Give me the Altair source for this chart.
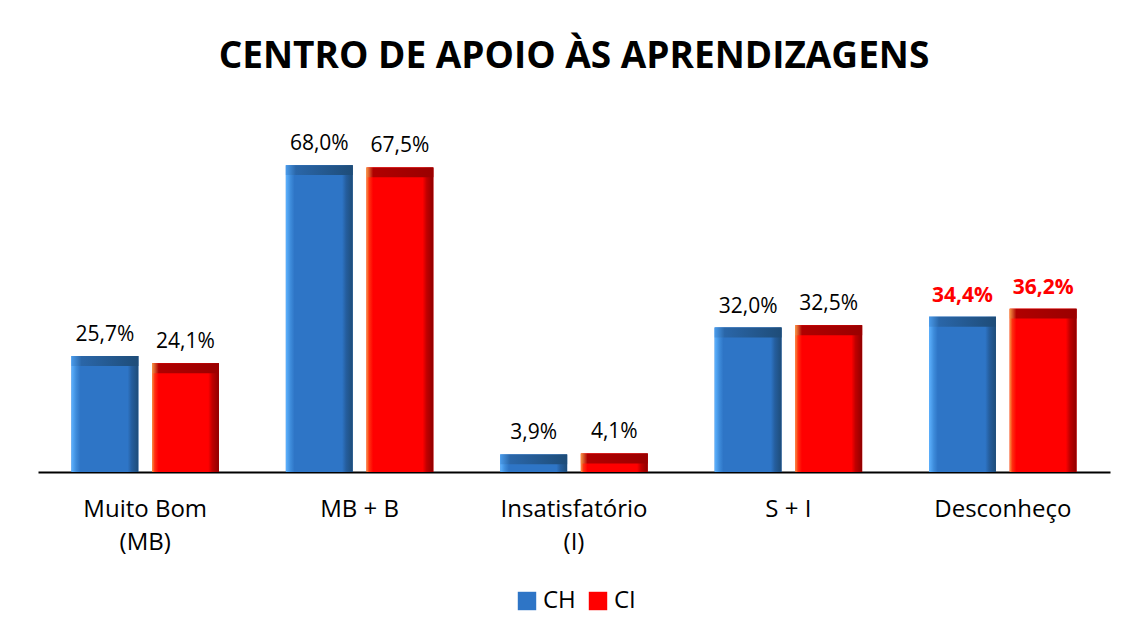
import altair as alt
import pandas as pd

categories = ["Muito Bom (MB)", "MB + B", "Insatisfatório (I)", "S + I", "Desconheço"]
series = ["CH", "CI"]
ch_values = [25.7, 68.0, 3.9, 32.0, 34.4]
ci_values = [24.1, 67.5, 4.1, 32.5, 36.2]
highlight_category = "Desconheço"

rows = []
for c, v in zip(categories, ch_values):
    rows.append({"categoria": c, "serie": "CH", "valor": v})
for c, v in zip(categories, ci_values):
    rows.append({"categoria": c, "serie": "CI", "valor": v})
df = pd.DataFrame(rows)

FONT = "Open Sans"
BLUE = "#2E75C6"
RED = "#FF0000"

grad_ch = {
    "gradient": "linear", "x1": 0, "y1": 0, "x2": 1, "y2": 0,
    "stops": [
        {"offset": 0.0, "color": "#5DB2FF"},
        {"offset": 0.07, "color": "#3E8CDB"},
        {"offset": 0.13, "color": BLUE},
        {"offset": 0.84, "color": BLUE},
        {"offset": 0.9, "color": "#255E9E"},
        {"offset": 1.0, "color": "#1E4C78"},
    ],
}
grad_ci = {
    "gradient": "linear", "x1": 0, "y1": 0, "x2": 1, "y2": 0,
    "stops": [
        {"offset": 0.0, "color": "#F79646"},
        {"offset": 0.04, "color": "#FF3010"},
        {"offset": 0.1, "color": RED},
        {"offset": 0.84, "color": RED},
        {"offset": 0.9, "color": "#C00000"},
        {"offset": 1.0, "color": "#8E0000"},
    ],
}
top_ch = {
    "gradient": "linear", "x1": 0, "y1": 0, "x2": 1, "y2": 0,
    "stops": [
        {"offset": 0.0, "color": "#4A9BEA"},
        {"offset": 0.15, "color": "#2A66A8"},
        {"offset": 1.0, "color": "#1E4C78"},
    ],
}
top_ci = {
    "gradient": "linear", "x1": 0, "y1": 0, "x2": 1, "y2": 0,
    "stops": [
        {"offset": 0.0, "color": "#F79646"},
        {"offset": 0.1, "color": "#B00000"},
        {"offset": 1.0, "color": "#9A0000"},
    ],
}

x_enc = alt.X(
    "categoria:N", sort=categories, title=None,
    scale=alt.Scale(paddingInner=0.312, paddingOuter=0.156),
    axis=alt.Axis(
        labelExpr="split(replace(datum.label, ' (', '|('), '|')",
        labelAngle=0, labelFont=FONT, labelFontSize=24, labelColor="black",
        labelPadding=25, labelLineHeight=33, ticks=False,
        domainColor="black", domainWidth=2, grid=False,
    ),
)
xoff = alt.XOffset("serie:N", sort=series,
                   scale=alt.Scale(paddingInner=0.17, paddingOuter=0))
y_scale = alt.Scale(domain=[0, 80])

base = alt.Chart(df).encode(x=x_enc, xOffset=xoff)

bars_legend = base.mark_bar().encode(
    y=alt.Y("valor:Q", scale=y_scale, axis=None),
    color=alt.Color(
        "serie:N", sort=series,
        scale=alt.Scale(domain=series, range=[BLUE, RED]),
        legend=alt.Legend(
            title=None, orient="none", direction="horizontal",
            legendX=477, legendY=478, symbolType="square", symbolSize=340,
            symbolStrokeWidth=0, labelFont=FONT, labelFontSize=24,
            labelColor="black", columnPadding=10, labelOffset=4,
        ),
    ),
)

bars_grad = base.mark_bar().encode(
    y=alt.Y("valor:Q", scale=y_scale),
    color=alt.condition("datum.serie == 'CH'", alt.value(grad_ch), alt.value(grad_ci)),
)

bars_top = base.transform_calculate(
    topo="datum.valor - 2.2"
).mark_bar().encode(
    y=alt.Y("valor:Q", scale=y_scale),
    y2="topo:Q",
    color=alt.condition("datum.serie == 'CH'", alt.value(top_ch), alt.value(top_ci)),
)

label_expr = "replace(format(datum.valor, '.1f'), '.', ',') + '%'"

labels_normal = base.transform_filter(
    f"datum.categoria != '{highlight_category}'"
).transform_calculate(rotulo=label_expr).mark_text(
    baseline="alphabetic", dy=-15, font=FONT, fontSize=21, color="black"
).encode(y=alt.Y("valor:Q", scale=y_scale), text="rotulo:N")

labels_high = base.transform_filter(
    f"datum.categoria == '{highlight_category}'"
).transform_calculate(rotulo=label_expr).mark_text(
    baseline="alphabetic", dy=-15, font=FONT, fontSize=21, fontWeight="bold", color=RED
).encode(y=alt.Y("valor:Q", scale=y_scale), text="rotulo:N")

chart = alt.layer(bars_legend, bars_grad, bars_top, labels_normal, labels_high).properties(
    width=1072, height=361,
    title=alt.TitleParams(
        "CENTRO DE APOIO ÀS APRENDIZAGENS", font=FONT, fontSize=37,
        fontWeight="bold", color="black", anchor="middle",
        baseline="alphabetic", offset=6,
    ),
    autosize=alt.AutoSizeParams(type="none"),
    padding={"left": 30, "top": 103, "right": 10, "bottom": 148},
).configure(background="white", view=alt.ViewConfig(stroke=None))

chart.save("out.html", embed_options={"renderer": "svg", "actions": False})
